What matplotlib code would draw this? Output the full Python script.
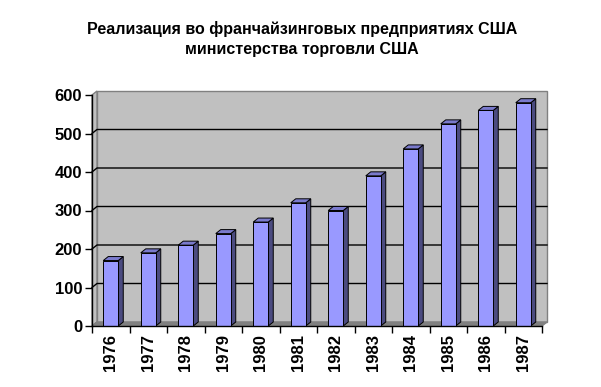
import numpy as np
from matplotlib import pyplot as plt
from matplotlib.patches import Polygon, Rectangle

years = ["1976", "1977", "1978", "1979", "1980", "1981",
         "1982", "1983", "1984", "1985", "1986", "1987"]
sales = [170, 190, 210, 240, 270, 320, 300, 390, 460, 525, 560, 580]
yticks = [0, 100, 200, 300, 400, 500, 600]
title = "Реализация во франчайзинговых предприятиях США\nминистерства торговли США"

plt.rcParams["font.family"] = ["Liberation Sans", "DejaVu Sans"]

W, H, DPI = 601, 387, 100
fig = plt.figure(figsize=(W / DPI, H / DPI), dpi=DPI)
# front plane of the 3D box, in pixels
left, right, top, bottom = 92, 542, 95, 326
ax = fig.add_axes([left / W, 1 - bottom / H, (right - left) / W, (bottom - top) / H])

n = len(years)
ax.set_xlim(-0.5, n - 0.5)
ax.set_ylim(0, 600)

# depth offset in data units (approx 5 px right, 4 px up)
px_x = (right - left) / n
px_y = (bottom - top) / 600
dx = 5 / px_x
dy = 4 / px_y

x0, x1 = -0.5, n - 0.5
# back wall
ax.add_patch(Rectangle((x0 + dx, dy), x1 - x0, 600, facecolor="#C0C0C0",
                       edgecolor="#808080", linewidth=1, zorder=0, clip_on=False))
# left side wall
ax.add_patch(Polygon([(x0, 0), (x0 + dx, dy), (x0 + dx, 600 + dy), (x0, 600)],
                     facecolor="#C0C0C0", edgecolor="#808080", linewidth=1,
                     zorder=0, clip_on=False))
# floor
ax.add_patch(Polygon([(x0, 0), (x1, 0), (x1 + dx, dy), (x0 + dx, dy)],
                     facecolor="#808080", edgecolor="#808080", linewidth=1,
                     zorder=1, clip_on=False))
# gridlines on back wall
for t in yticks[1:-1]:
    ax.plot([x0, x0 + dx, x1 + dx], [t, t + dy, t + dy], color="black",
            linewidth=1, zorder=1, clip_on=False)

w = 0.4
front = "#9999FF"
side = "#4B4B80"
topc = "#7A7ACC"
for i, v in enumerate(sales):
    l, r = i - w / 2, i + w / 2
    ax.add_patch(Polygon([(r, 0), (r + dx, dy), (r + dx, v + dy), (r, v)],
                         facecolor=side, edgecolor="black", linewidth=0.7,
                         zorder=3, clip_on=False))
    ax.add_patch(Polygon([(l, v), (r, v), (r + dx, v + dy), (l + dx, v + dy)],
                         facecolor=topc, edgecolor="black", linewidth=0.7,
                         zorder=3, clip_on=False))
ax.bar(range(n), sales, width=w, color=front, edgecolor="black",
       linewidth=0.7, zorder=4)

for s in ["top", "right"]:
    ax.spines[s].set_visible(False)
ax.spines["left"].set_linewidth(1)
ax.spines["bottom"].set_linewidth(1)
ax.spines["left"].set_zorder(5)
ax.spines["bottom"].set_zorder(5)

ax.set_yticks(yticks)
ax.set_yticklabels([str(t) for t in yticks], fontsize=12, fontweight="bold")
ax.set_xticks(np.arange(n + 1) - 0.5, minor=False)
ax.set_xticklabels([])
ax.set_xticks(range(n), minor=True)
ax.set_xticklabels(years, minor=True, rotation=90, fontsize=12, fontweight="bold")
ax.tick_params(axis="x", which="major", length=5, width=1, direction="out")
ax.tick_params(axis="x", which="minor", length=0, pad=6)
ax.tick_params(axis="y", length=5, width=1, direction="out", pad=2)
ax.set_facecolor("none")

fig.text(302 / W, 1 - 39 / H, title, ha="center", va="center", fontsize=11.5,
         fontweight="bold", linespacing=1.35)

fig.savefig("out.png", dpi=DPI)
